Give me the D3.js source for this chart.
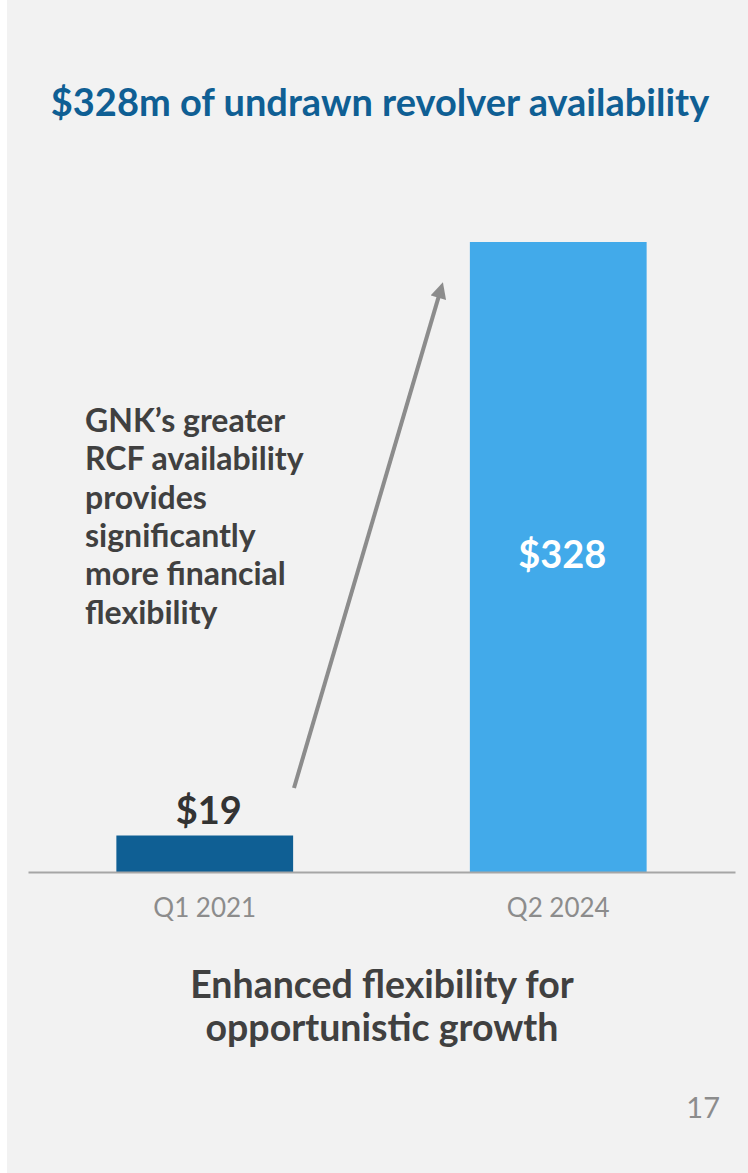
<!DOCTYPE html>
<html>
<head>
<meta charset="utf-8">
<script src="https://cdn.jsdelivr.net/npm/d3@7"></script>
<style>
  html, body { margin: 0; padding: 0; background: #ffffff; }
  svg { display: block; font-family: Lato, "Open Sans", sans-serif; }
</style>
</head>
<body>
<svg id="chart" width="748" height="1173"></svg>
<script>
// Undrawn revolver availability ($m)
const categories = ["Q1 2021", "Q2 2024"];
const values = [19, 328];
const barColors = ["#0f5f94", "#42aaea"];
const valueLabels = ["$19", "$328"];

const title = "$328m of undrawn revolver availability";
const noteLines = ["GNK’s greater", "RCF availability", "provides", "significantly", "more financial", "flexibility"];
const footerLines = ["Enhanced flexibility for", "opportunistic growth"];
const pageNumber = "17";

const W = 748, H = 1173;
const svg = d3.select("#chart");

// slide panel
svg.append("rect").attr("x", 7).attr("y", 0).attr("width", W - 7).attr("height", H).attr("fill", "#f2f2f2");

// plot frame
const baseline = 872;
const x = d3.scaleBand().domain(categories).range([28, 735]).paddingInner(0.5).paddingOuter(0.25);
const y = d3.scaleLinear().domain([0, 328]).range([baseline, 242]);

svg.append("text")
  .attr("x", 380).attr("y", 116)
  .attr("text-anchor", "middle")
  .attr("font-size", 38).attr("font-weight", 700)
  .attr("fill", "#0f5f94")
  .text(title);

// bars
svg.selectAll("rect.bar").data(values).join("rect")
  .attr("class", "bar")
  .attr("x", (d, i) => x(categories[i]))
  .attr("width", x.bandwidth())
  .attr("y", d => y(d))
  .attr("height", d => baseline - y(d))
  .attr("fill", (d, i) => barColors[i]);

// baseline axis
const axis = svg.append("g").attr("transform", `translate(0,${baseline})`)
  .call(d3.axisBottom(x).tickSize(0).tickPadding(0));
axis.select(".domain").attr("stroke", "#a6a6a6").attr("stroke-width", 2);
axis.selectAll(".tick text")
  .attr("y", 45)
  .attr("dy", 0)
  .attr("font-family", "Lato, sans-serif")
  .attr("font-size", 26)
  .attr("fill", "#8c8c8c");

// value labels: small bar above, large bar inside
svg.append("text")
  .attr("x", x(categories[0]) + x.bandwidth() / 2 + 4)
  .attr("y", y(values[0]) - 12)
  .attr("text-anchor", "middle")
  .attr("font-size", 38).attr("font-weight", 700)
  .attr("fill", "#333333")
  .text(valueLabels[0]);

svg.append("text")
  .attr("x", x(categories[1]) + x.bandwidth() / 2 + 4)
  .attr("y", (y(values[1]) + baseline) / 2 + 1)
  .attr("text-anchor", "middle")
  .attr("dominant-baseline", "middle")
  .attr("font-size", 38).attr("font-weight", 700)
  .attr("fill", "#ffffff")
  .text(valueLabels[1]);

// growth arrow: drawn from its tail to its tip
const tail = [294, 788], tip = [443, 282];
const len = Math.hypot(tip[0] - tail[0], tip[1] - tail[1]);
const ux = (tip[0] - tail[0]) / len, uy = (tip[1] - tail[1]) / len;
const headReach = 6.7;

svg.append("defs").append("marker")
  .attr("id", "head")
  .attr("viewBox", "0 0 10 10")
  .attr("refX", 6).attr("refY", 5)
  .attr("markerWidth", 4.2).attr("markerHeight", 4)
  .attr("orient", "auto")
  .append("path").attr("d", "M0,0 L10,5 L0,10 Z").attr("fill", "#8c8c8c");

svg.append("line")
  .attr("x1", tail[0]).attr("y1", tail[1])
  .attr("x2", tip[0] - ux * headReach).attr("y2", tip[1] - uy * headReach)
  .attr("stroke", "#8c8c8c").attr("stroke-width", 4)
  .attr("marker-end", "url(#head)");

// annotation
svg.append("text")
  .attr("font-size", 32).attr("font-weight", 700).attr("fill", "#404040")
  .selectAll("tspan").data(noteLines).join("tspan")
  .attr("x", 85)
  .attr("y", (d, i) => 432 + i * 38.3)
  .text(d => d);

// footer
svg.append("text")
  .attr("font-size", 37.5).attr("font-weight", 700).attr("fill", "#404040")
  .attr("text-anchor", "middle")
  .selectAll("tspan").data(footerLines).join("tspan")
  .attr("x", 382)
  .attr("y", (d, i) => 998 + i * 43)
  .text(d => d);

svg.append("text")
  .attr("x", 720).attr("y", 1118)
  .attr("text-anchor", "end")
  .attr("font-size", 29).attr("fill", "#8c8c8c")
  .text(pageNumber);
</script>
</body>
</html>
